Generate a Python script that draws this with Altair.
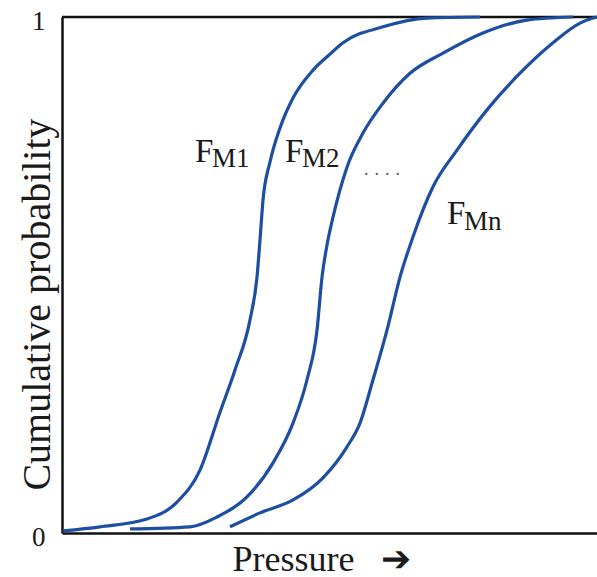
import altair as alt
import pandas as pd

# Curve F_M1
p1 = [1, 38, 85, 115, 138, 158, 173, 188, 195, 198, 201, 208, 218, 231, 251, 268, 281, 321, 365, 418]
c1 = [0.004, 0.012, 0.027, 0.060, 0.122, 0.234, 0.316, 0.413, 0.496, 0.568, 0.645, 0.719, 0.785,
      0.843, 0.897, 0.928, 0.950, 0.981, 0.998, 1.0]
# Curve F_M2
p2 = [68, 128, 155, 185, 211, 231, 245, 255, 260, 265, 271, 285, 301, 321, 348, 381, 421, 465, 511]
c2 = [0.008, 0.012, 0.031, 0.070, 0.136, 0.213, 0.297, 0.393, 0.496, 0.558, 0.612, 0.709, 0.775,
      0.833, 0.891, 0.930, 0.969, 0.994, 1.0]
# Curve F_Mn
p3 = [168, 198, 231, 261, 285, 298, 311, 325, 338, 351, 371, 395, 425, 458, 491, 518, 531, 535]
c3 = [0.012, 0.039, 0.064, 0.107, 0.167, 0.213, 0.297, 0.393, 0.496, 0.574, 0.671, 0.742, 0.820,
      0.891, 0.950, 0.988, 0.998, 1.0]

# Curve labels (main letter + subscript)
main_text = ["F", "F", "F"]
main_x = [133, 223, 385]
main_y = [0.719, 0.719, 0.599]
sub_text = ["M1", "M2", "Mn"]
sub_x = [150, 240, 402]
sub_y = [0.709, 0.709, 0.587]
dots_text = ["· · · ·"]
dots_x = [320]
dots_y = [0.693]

y_ticks = [0, 1]

rows = []
for name, ps, cs in [("FM1", p1, c1), ("FM2", p2, c2), ("FMn", p3, c3)]:
    for p, c in zip(ps, cs):
        rows.append({"curve": name, "pressure": p, "prob": c})
df = pd.DataFrame(rows)

xscale = alt.Scale(domain=[0, 535], nice=False, zero=False)
yscale = alt.Scale(domain=[0, 1], nice=False)

FONT = "Liberation Serif"

x_enc = alt.X("pressure:Q", scale=xscale,
              axis=alt.Axis(title="Pressure\u00a0\u00a0\u00a0➔", labels=False, ticks=False, grid=False,
                            domainColor="#111111", domainWidth=2.5,
                            titleFont=FONT, titleFontSize=36, titleFontWeight="normal",
                            titleColor="#1a1a1a", titleAnchor="start", titleAlign="left",
                            titleX=170, titleY=37, titleBaseline="alphabetic"))
y_enc = alt.Y("prob:Q", scale=yscale,
              axis=alt.Axis(title="Cumulative probability", values=y_ticks, format="d",
                            ticks=False, grid=False, domainColor="#111111", domainWidth=2.5,
                            labelFont=FONT, labelFontSize=27, labelColor="#1a1a1a",
                            labelPadding=17, labelOffset=4,
                            titleFont=FONT, titleFontSize=40, titleFontWeight="normal",
                            titleColor="#1a1a1a", titleAngle=270, titleAlign="center",
                            titleBaseline="alphabetic", titleX=-13, titleY=287))

lines = alt.Chart(df).mark_line(color="#1c4ea2", strokeWidth=3.2, interpolate="monotone").encode(
    x=x_enc, y=y_enc, detail="curve:N")

top_rule = alt.Chart(pd.DataFrame({"v": [1]})).mark_rule(color="#111111", strokeWidth=2.5).encode(
    y=alt.Y("v:Q", scale=yscale))

main_df = pd.DataFrame({"x": main_x, "y": main_y, "t": main_text})
sub_df = pd.DataFrame({"x": sub_x, "y": sub_y, "t": sub_text})
dots_df = pd.DataFrame({"x": dots_x, "y": dots_y, "t": dots_text})

main_lbl = alt.Chart(main_df).mark_text(font=FONT, fontSize=33, color="#1a1a1a", align="left",
                                        baseline="alphabetic").encode(
    x=alt.X("x:Q", scale=xscale), y=alt.Y("y:Q", scale=yscale), text="t:N")
sub_lbl = alt.Chart(sub_df).mark_text(font=FONT, fontSize=27, color="#1a1a1a", align="left",
                                      baseline="alphabetic").encode(
    x=alt.X("x:Q", scale=xscale), y=alt.Y("y:Q", scale=yscale), text="t:N")
dots_lbl = alt.Chart(dots_df).mark_text(font=FONT, fontSize=18, color="#4a5a70", align="center",
                                        baseline="middle").encode(
    x=alt.X("x:Q", scale=xscale), y=alt.Y("y:Q", scale=yscale), text="t:N")

chart = alt.layer(top_rule, lines, main_lbl, sub_lbl, dots_lbl).properties(
    width=535, height=516,
    autosize=alt.AutoSizeParams(type="none"),
    padding={"left": 62, "top": 17, "right": 0, "bottom": 44},
    background="white",
).configure_view(stroke=None)

chart.save("out.html", embed_options={"renderer": "svg", "actions": False})
